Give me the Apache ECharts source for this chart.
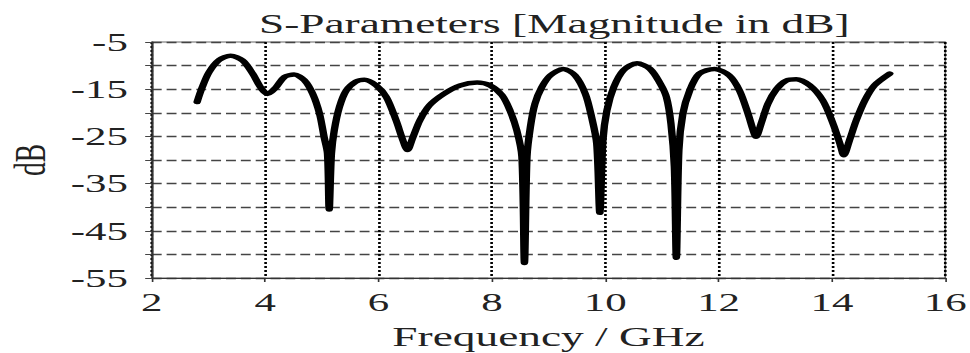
<!DOCTYPE html>
<html>
<head>
<meta charset="utf-8">
<title>S-Parameters</title>
<script src="https://cdn.jsdelivr.net/npm/echarts@6/dist/echarts.min.js"></script>
<style>
  html, body { margin: 0; padding: 0; background: #fff; overflow: hidden; }
  /* the reference picture is stretched sideways, so the chart is drawn narrow and scaled */
  #chart { width: 588px; height: 353px; transform: scaleX(1.6497); transform-origin: 0 0; }
</style>
</head>
<body>
<div id="chart"></div>
<script>
// frequency in GHz
const freq = [2.80, 2.89, 3.01, 3.19, 3.39, 3.60, 3.78, 3.92, 4.04, 4.19, 4.34, 4.51, 4.69, 4.84,
  4.96, 5.04, 5.10, 5.13, 5.17, 5.22, 5.31, 5.43, 5.60, 5.75, 5.96, 6.14, 6.31, 6.43, 6.51, 6.61,
  6.73, 6.90, 7.15, 7.44, 7.74, 7.97, 8.18, 8.32, 8.44, 8.53, 8.575, 8.62, 8.68, 8.76, 8.88, 9.03,
  9.26, 9.47, 9.65, 9.76, 9.85, 9.905, 9.96, 10.03, 10.15, 10.32, 10.56, 10.79, 10.97, 11.08, 11.16,
  11.22, 11.255, 11.30, 11.37, 11.49, 11.66, 11.93, 12.19, 12.37, 12.52, 12.61, 12.66, 12.75, 12.87,
  13.02, 13.19, 13.37, 13.61, 13.84, 14.02, 14.14, 14.21, 14.31, 14.43, 14.58, 14.75, 15.02];

// magnitude in dB
const magDb = [-17.7, -14.6, -11.4, -8.8, -7.9, -8.9, -11.7, -14.6, -16.0, -14.6, -12.4, -11.9, -13.1, -16.0,
  -20.2, -25.1, -28.6, -40.5, -28.6, -23.7, -18.8, -15.3, -13.4, -13.0, -14.2, -16.7, -21.6, -25.8, -27.9, -25.1,
  -21.6, -18.4, -16.0, -14.2, -13.6, -14.2, -16.3, -19.5, -23.7, -29.3, -51.8, -29.3, -23.0, -18.1, -14.6, -12.1,
  -10.7, -12.1, -16.0, -20.9, -26.5, -41.2, -25.8, -19.5, -14.6, -11.0, -9.5, -10.7, -13.8, -16.7, -22.3,
  -31.4, -50.7, -27.9, -20.2, -15.3, -11.7, -10.7, -12.1, -15.3, -20.2, -23.7, -25.1, -22.3, -18.1,
  -15.0, -13.2, -12.9, -14.2, -17.4, -22.3, -26.5, -29.0, -25.8, -21.6, -17.4, -14.2, -11.7];

const titleText = 'S-Parameters [Magnitude in dB]';
const xName = 'Frequency / GHz';
const yName = 'dB';

const serif = "'Liberation Serif', 'Times New Roman', serif";

const chart = echarts.init(document.getElementById('chart'), null, { renderer: 'svg' });

chart.setOption({
  animation: false,
  title: {
    text: titleText,
    left: 331,
    textAlign: 'center',
    top: 5,
    textStyle: { fontFamily: serif, fontSize: 27.5, fontWeight: 'normal', color: '#222' }
  },
  grid: {
    left: 92, right: 15, top: 42, bottom: 75,
    outerBoundsMode: 'none',
    containLabel: false,
    show: true, borderColor: '#666', borderWidth: 1
  },
  xAxis: {
    type: 'value',
    min: 2, max: 16, interval: 2,
    name: xName,
    nameLocation: 'middle',
    nameGap: 45,
    nameTextStyle: { fontFamily: serif, fontSize: 27.5, color: '#222' },
    axisLine: { lineStyle: { color: '#333', width: 1.2 } },
    axisTick: { show: true, length: 4, lineStyle: { color: '#333' } },
    axisLabel: { fontFamily: serif, fontSize: 26, color: '#222', margin: 11 },
    splitLine: { show: true, lineStyle: { color: '#000', type: [2, 2], width: 1.6 } }
  },
  yAxis: {
    type: 'value',
    min: -55, max: -5, interval: 5,
    name: yName,
    nameLocation: 'middle',
    nameGap: 55,
    nameTextStyle: { fontFamily: serif, fontSize: 27.5, color: '#222' },
    axisLine: { show: true, lineStyle: { color: '#333', width: 1.2 } },
    axisTick: { show: true, length: 4, lineStyle: { color: '#444' } },
    axisLabel: {
      fontFamily: serif, fontSize: 26, color: '#222', margin: 14.5,
      formatter: v => ((v + 5) % 10 === 0 ? String(v) : '')
    },
    splitLine: { show: true, lineStyle: { color: '#444', type: [6, 3], width: 1.3 } }
  },
  series: [{
    type: 'line',
    data: freq.map((f, i) => [f, magDb[i]]),
    showSymbol: false,
    smooth: 0.3,
    lineStyle: { color: '#000', width: 4.5, cap: 'round', join: 'round' }
  }]
});
</script>
</body>
</html>
